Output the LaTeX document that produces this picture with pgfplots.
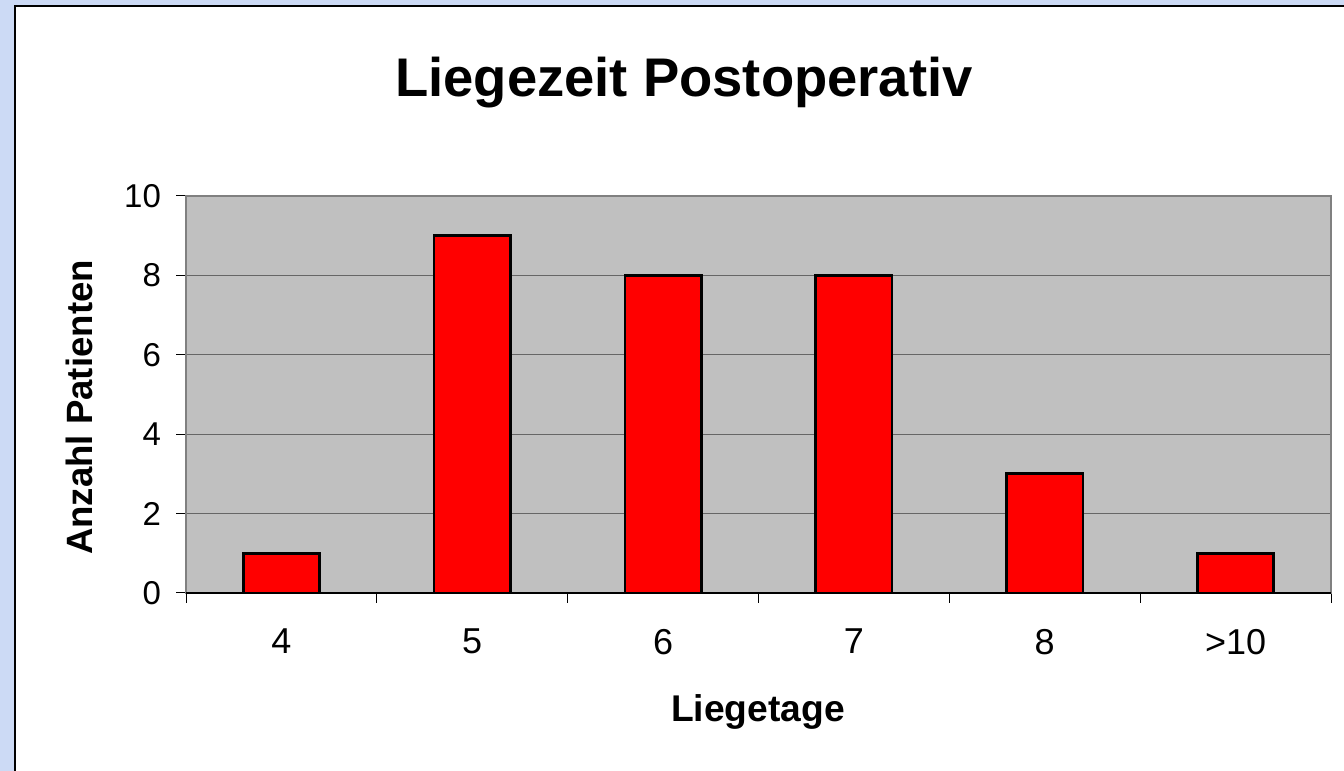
\documentclass[border=0pt]{standalone}
\usepackage{pgfplots}
\pgfplotsset{compat=1.18}
\usepackage{fontspec}
\setmainfont{Liberation Sans}
\definecolor{frameblue}{RGB}{204,218,245}
\definecolor{plotgray}{RGB}{192,192,192}
\begin{document}
\begin{tikzpicture}
\useasboundingbox (0pt,0pt) rectangle (672pt,385.5pt);
\fill[frameblue] (0pt,0pt) rectangle (672pt,385.5pt);
\fill[white] (7.5pt,-5pt) rectangle (680pt,382.5pt);
\draw[black,line width=1pt] (7.5pt,-5pt) -- (7.5pt,382.5pt) -- (680pt,382.5pt);
\node[anchor=base,font=\fontsize{27.2}{31}\selectfont\bfseries] at (342pt,337pt) {Liegezeit Postoperativ};
\node[anchor=base,font=\fontsize{18.6}{21}\selectfont\bfseries] at (379pt,24.5pt) {Liegetage};
\node[anchor=base,rotate=90,font=\fontsize{18.3}{21}\selectfont\bfseries] at (46pt,181.75pt) {Anzahl Patienten};
\begin{axis}[
  at={(93pt,89pt)}, anchor=south west,
  scale only axis, width=572.5pt, height=198.5pt,
  xmin=-0.5, xmax=5.5, ymin=0, ymax=10,
  axis background/.style={fill=plotgray},
  axis line style={draw=black!50, line width=0.6pt},
  xtick={0,1,2,3,4,5},
  xticklabels={4,5,6,7,8,>10},
  minor xtick={-0.5,0.5,1.5,2.5,3.5,4.5,5.5},
  major x tick style={draw=none},
  minor x tick style={draw=black, line width=0.5pt},
  minor tick length=5pt,
  ytick={0,2,4,6,8,10},
  ytick style={draw=black, line width=0.5pt},
  major tick length=5pt,
  tick align=outside,
  xtick pos=bottom, ytick pos=left,
  ymajorgrids,
  major grid style={draw=black!60, line width=0.5pt},
  yticklabel style={font=\fontsize{16.5}{18}\selectfont, xshift=-4pt},
  xticklabel style={font=\fontsize{18}{20}\selectfont, yshift=-9.5pt},
  /pgf/number format/assume math mode=true,
  ybar, bar width=0.4,
  clip=false,
]
\addplot[fill=red, draw=black, line width=1.4pt, bar shift=0pt] coordinates {(0,1) (1,9) (2,8) (3,8) (4,3) (5,1)};
\draw[black, line width=0.6pt] (axis cs:-0.5,0) -- (axis cs:5.5,0);
\end{axis}
\end{tikzpicture}
\end{document}
